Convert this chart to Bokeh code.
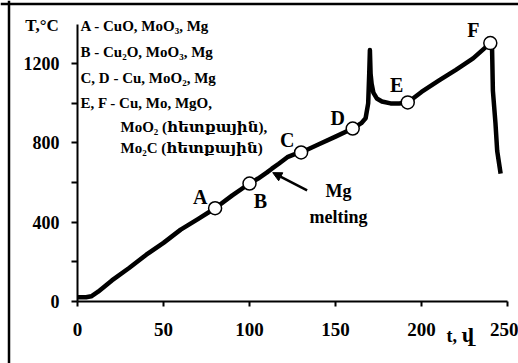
from bokeh.plotting import figure
from bokeh.models import FixedTicker, Label, Arrow, NormalHead, ColumnDataSource, Span
from bokeh.core.properties import value
from bokeh.embed import file_html
from bokeh.resources import INLINE

# temperature curve (t in s, T in °C)
t_vals = [0, 5, 8, 12, 20, 30, 40, 50, 60, 70, 80, 90, 100, 105, 110, 113, 117,
          122, 126, 130, 140, 150, 160, 165, 167.5, 169, 169.6, 170, 170.4, 171,
          172, 174, 177, 182, 187, 192, 200, 210, 220, 230, 240, 241, 241.5,
          243, 244, 246]
T_vals = [20, 20, 25, 48, 105, 168, 235, 295, 362, 415, 470, 535, 595, 620, 650,
          670, 695, 728, 742, 752, 792, 832, 873, 900, 925, 1000, 1150, 1270,
          1150, 1100, 1055, 1025, 1010, 1000, 1000, 1005, 1058, 1115, 1170, 1228,
          1305, 1290, 1065, 900, 760, 645]

# marked points
mark_names = ["A", "B", "C", "D", "E", "F"]
mark_t = [80, 100, 130, 160, 192, 240]
mark_T = [470, 595, 752, 873, 1005, 1305]
lab_dx = [-15, 11, -14, -15, -11, -17]
lab_dy = [-11, 17, -12, -11, -17, -13]

x_ticks = [0, 50, 100, 150, 200, 250]
y_ticks = [0, 400, 800, 1200]
y_minor = [200, 600, 1000]
x_bounds = (0, 250)
y_bounds = (0, 1400)

legend_lines = ["A - CuO, MoO₃, Mg", "B - Cu₂O, MoO₃, Mg", "C, D - Cu, MoO₂, Mg",
                "E, F - Cu, Mo, MgO,", "MoO₂ (հետքային),", "Mo₂C (հետքային)"]

FONT = "Liberation Serif, DejaVu Serif"

# page geometry (pixels) -> data ranges
W, H = 518, 363
AX_L, AX_R = 77.0, 507.0      # x = 0 and x = 250
AX_B, AX_T = 300.7, 23.8      # y = 0 and y = 1400
sx = (AX_R - AX_L) / (x_bounds[1] - x_bounds[0])
sy = (AX_B - AX_T) / (y_bounds[1] - y_bounds[0])
x_range = (x_bounds[0] - AX_L / sx, x_bounds[1] + (W - AX_R) / sx)
y_range = (y_bounds[0] - (H - AX_B) / sy, y_bounds[1] + AX_T / sy)

def dx(px):
    return x_range[0] + px / sx

def dy(py):
    return y_range[1] - py / sy

p = figure(width=W, height=H, x_range=x_range, y_range=y_range,
           output_backend="svg", toolbar_location=None,
           min_border_left=0, min_border_right=0, min_border_top=0,
           min_border_bottom=0)
p.outline_line_color = None
p.xgrid.visible = False
p.ygrid.visible = False

# outer frame of the picture (left and top edges)
p.add_layout(Span(location=dx(8.5), dimension="height", line_color="black", line_width=2.5))
p.add_layout(Span(location=dy(3.5), dimension="width", line_color="black", line_width=2.5))

for ax in (p.xaxis[0], p.yaxis[0]):
    ax.fixed_location = 0
    ax.axis_line_width = 2
    ax.axis_line_color = "black"
    ax.major_tick_line_width = 2
    ax.major_tick_line_color = "black"
    ax.minor_tick_line_width = 2
    ax.minor_tick_line_color = "black"
    ax.major_tick_in = 0
    ax.minor_tick_in = 0
    ax.major_label_text_font = FONT
    ax.major_label_text_font_style = "bold"
    ax.major_label_text_font_size = "18px"
    ax.major_label_text_color = "black"

p.xaxis[0].bounds = x_bounds
p.xaxis[0].ticker = FixedTicker(ticks=x_ticks)
p.xaxis[0].major_tick_out = 5
p.xaxis[0].minor_tick_out = 0
p.xaxis[0].major_label_standoff = 17
p.xaxis[0].major_label_text_font_size = "19px"

p.yaxis[0].bounds = y_bounds
p.yaxis[0].ticker = FixedTicker(ticks=y_ticks, minor_ticks=y_minor)
p.yaxis[0].major_tick_out = 6
p.yaxis[0].minor_tick_out = 6
p.yaxis[0].major_label_standoff = 12

p.line(t_vals, T_vals, line_width=4.5, line_color="black", line_join="round")

src = ColumnDataSource(dict(t=mark_t, T=mark_T, name=mark_names, dx=lab_dx, dy=lab_dy))
p.scatter("t", "T", source=src, size=13, fill_color="white", line_color="black",
          line_width=1.5)
p.text("t", "T", text="name", source=src, x_offset="dx", y_offset="dy",
       text_font=value(FONT), text_font_style="bold", text_font_size="20px",
       text_align="center", text_baseline="middle", text_color="black")

p.add_layout(Arrow(end=NormalHead(size=9, fill_color="black", line_color="black"),
                   x_start=133.5, y_start=560, x_end=113.5, y_end=650,
                   line_width=2.5, line_color="black"))

def lab(x, y, text, size, align="left"):
    p.add_layout(Label(x=x, y=y, text=text, text_font=FONT, text_font_style="bold",
                       text_font_size=size, text_align=align,
                       text_baseline="middle", text_color="black"))

lab(151.7, 556, "Mg", "18px", "center")
lab(151.7, 424, "melting", "18px", "center")
lab(dx(41.5), dy(25), "T,°C", "17px", "center")
lab(dx(460), dy(335), "t, վ", "18px", "center")

leg_x = [dx(80)] * 4 + [dx(120)] * 2
leg_py = [25, 51, 77, 102, 126, 147]
for x, py, s in zip(leg_x, leg_py, legend_lines):
    lab(x, dy(py), s, "15px")

open("out.html", "w").write(file_html(p, INLINE))
